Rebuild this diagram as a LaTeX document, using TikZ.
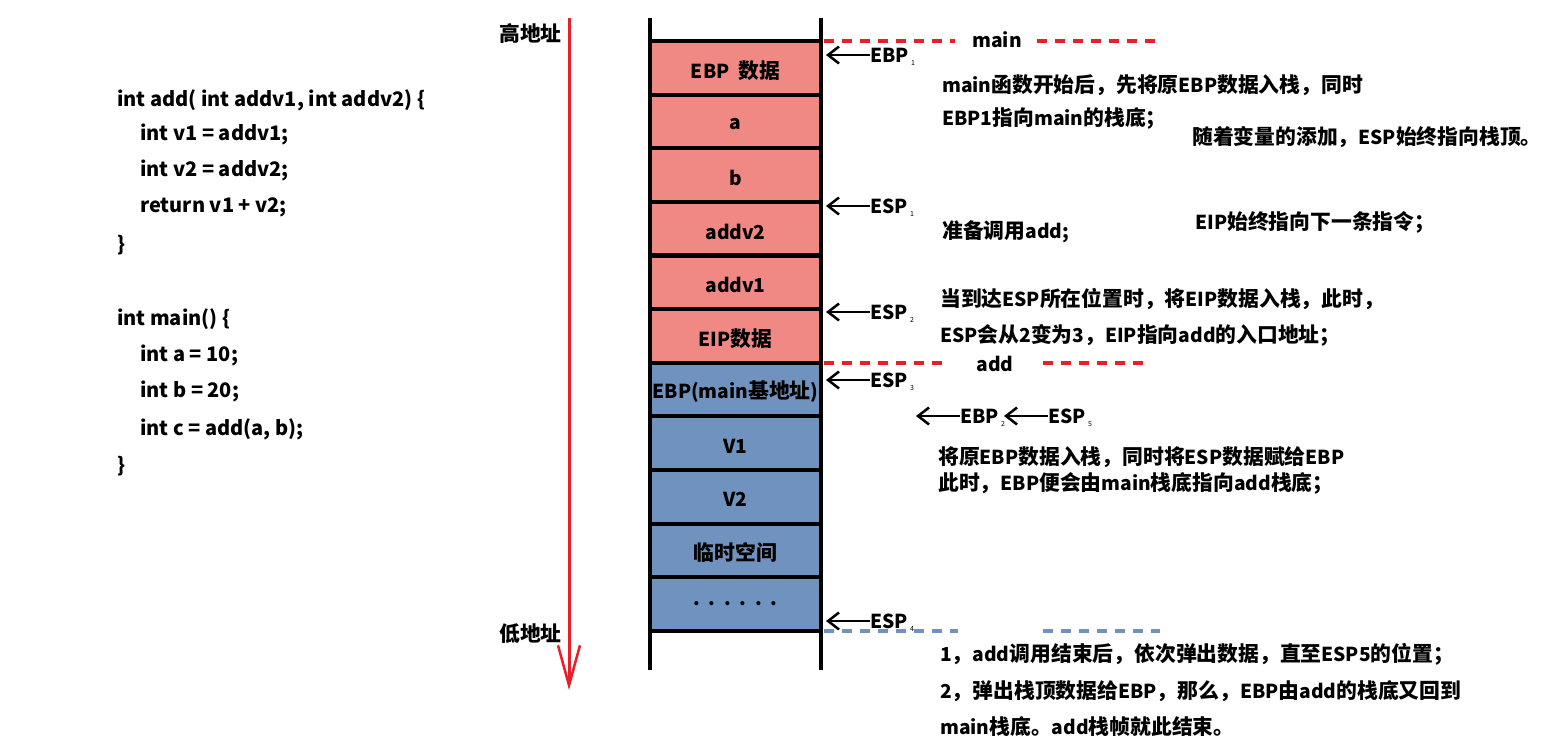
\documentclass[tikz,border=0pt]{standalone}
\usepackage{fontspec}
\setmainfont{Noto Sans CJK SC}
\usetikzlibrary{arrows.meta}
\definecolor{cellred}{RGB}{240,136,132}
\definecolor{cellblue}{RGB}{111,146,191}
\definecolor{dashred}{RGB}{232,30,40}
\definecolor{arrred}{RGB}{232,30,40}
\newcommand\zh[1]{{\fontsize{20.8}{24}\selectfont #1}}
\begin{document}
\begin{tikzpicture}[x=1pt,y=-1pt,
  txt/.style={font=\fontsize{19.2}{22}\selectfont\bfseries, inner sep=0pt, anchor=west},
  codetxt/.style={font=\fontsize{20}{22}\selectfont\bfseries, inner sep=0pt, anchor=west},
  celltxt/.style={font=\fontsize{19.2}{22}\selectfont\bfseries, inner sep=0pt},
  subtxt/.style={font=\fontsize{7}{7}\selectfont, inner sep=0pt, anchor=south west},
  cellr/.style={draw=black, line width=4pt, fill=cellred, minimum width=171pt, minimum height=53.6pt, inner sep=0pt},
  cellb/.style={draw=black, line width=4pt, fill=cellblue, minimum width=171pt, minimum height=53.6pt, inner sep=0pt},
  ptr/.style={line width=2.5pt, -{Straight Barb[length=11pt,width=17pt,line width=2.5pt]}},
  reddash/.style={draw=dashred, line width=4pt, dash pattern=on 10pt off 8pt},
  bluedash/.style={draw=cellblue, line width=4pt, dash pattern=on 10pt off 8pt},
  addrarrow/.style={draw=arrred, line width=3pt, -{Straight Barb[length=40pt,width=22pt,line width=2.5pt]}}
]
\useasboundingbox (0,0) rectangle (1557,747);

% code
\node[codetxt] (c1) at (117,100) {int add( int addv1, int addv2) \{};
\node[codetxt] (c2) at (140,134) {int v1 = addv1;};
\node[codetxt] (c3) at (140,170) {int v2 = addv2;};
\node[codetxt] (c4) at (140,207) {return v1 + v2;};
\node[codetxt] (c5) at (117,245) {\}};
\node[codetxt] (c6) at (117,319) {int main() \{};
\node[codetxt] (c7) at (140,355) {int a = 10;};
\node[codetxt] (c8) at (140,391) {int b = 20;};
\node[codetxt] (c9) at (140,429) {int c = add(a, b);};
\node[codetxt] (c10) at (117,466) {\}};

% address arrow
\node[txt] (hi) at (499,34) {\zh{高地址}};
\node[txt] (lo) at (499,634) {\zh{低地址}};
\coordinate (aTop) at (569,18);
\coordinate (aBot) at (569,690);
\draw[addrarrow] (aTop) -- (aBot);

% stack cells
\node[cellr] (s1) at (735.5,67.8) {};
\node[cellr] (s2) at (735.5,121.4) {};
\node[cellr] (s3) at (735.5,175.0) {};
\node[cellr] (s4) at (735.5,228.6) {};
\node[cellr] (s5) at (735.5,282.3) {};
\node[cellr] (s6) at (735.5,336.0) {};
\node[cellb] (s7) at (735.5,389.6) {};
\node[cellb] (s8) at (735.5,443.2) {};
\node[cellb] (s9) at (735.5,496.8) {};
\node[cellb] (s10) at (735.5,550.4) {};
\node[cellb] (s11) at (735.5,604.1) {};
\node[celltxt] at ([yshift=-3pt]s1) {EBP\ \ \zh{数据}};
\node[celltxt] at ([yshift=-3pt]s2) {a};
\node[celltxt] at ([yshift=-3pt]s3) {b};
\node[celltxt] at ([yshift=-3pt]s4) {addv2};
\node[celltxt] at ([yshift=-3pt]s5) {addv1};
\node[celltxt] at ([yshift=-3pt]s6) {EIP\zh{数据}};
\node[celltxt] at ([yshift=-2pt]s7) {EBP(main\zh{基地址})};
\node[celltxt] at ([yshift=-3pt]s8) {V1};
\node[celltxt] at ([yshift=-3pt]s9) {V2};
\node[celltxt] at ([yshift=-2pt]s10) {\zh{临时空间}};
\node[celltxt] at ([yshift=0pt]s11) {.\ \ .\ \ .\ \ .\ \ .\ \ .};
\coordinate (lt) at (650,18); \coordinate (lb) at (650,670);
\coordinate (rt) at (821,18); \coordinate (rb) at (821,670);
\draw[line width=4pt] (lt) -- (lb);
\draw[line width=4pt] (rt) -- (rb);

% separators
\node[txt, anchor=center] (mainl) at (997,40) {main};
\coordinate (m0) at (824,41); \coordinate (m1) at (955,41);
\coordinate (m2) at (1037,41); \coordinate (m3) at (1160,41);
\draw[reddash] (m0) -- (m1);
\draw[reddash] (m2) -- (m3);
\node[txt, anchor=center] (addl) at (995,364) {add};
\coordinate (d0) at (824,363); \coordinate (d1) at (948,363);
\coordinate (d2) at (1043,363); \coordinate (d3) at (1150,363);
\draw[reddash] (d0) -- (d1);
\draw[reddash] (d2) -- (d3);
\coordinate (b0) at (824,631); \coordinate (b1) at (958,631);
\coordinate (b2) at (1043,631); \coordinate (b3) at (1160,631);
\draw[bluedash] (b0) -- (b1);
\draw[bluedash] (b2) -- (b3);

% pointers
\node[txt] (ebp1) at (870,55) {EBP};
\node[subtxt] at ([xshift=2pt,yshift=-3pt]ebp1.south east) {1};
\coordinate (t1) at (826,55);
\draw[ptr] (ebp1.west) -- (t1);

\node[txt] (esp1) at (870,206) {ESP};
\node[subtxt] at ([xshift=2pt,yshift=-3pt]esp1.south east) {1};
\coordinate (t2) at (826,206);
\draw[ptr] (esp1.west) -- (t2);

\node[txt] (esp2) at (870,312) {ESP};
\node[subtxt] at ([xshift=2pt,yshift=-3pt]esp2.south east) {2};
\coordinate (t3) at (826,312);
\draw[ptr] (esp2.west) -- (t3);

\node[txt] (esp3) at (870,380) {ESP};
\node[subtxt] at ([xshift=2pt,yshift=-3pt]esp3.south east) {3};
\coordinate (t4) at (826,380);
\draw[ptr] (esp3.west) -- (t4);

\node[txt] (ebp2) at (960,416) {EBP};
\node[subtxt] (ebp2s) at ([xshift=2pt,yshift=-3pt]ebp2.south east) {2};
\coordinate (t5) at (916,416);
\draw[ptr] (ebp2.west) -- (t5);

\node[txt] (esp5) at (1048,416) {ESP};
\node[subtxt] at ([xshift=2pt,yshift=-3pt]esp5.south east) {5};
\coordinate (t6) at (1004,416);
\draw[ptr] (esp5.west) -- (t6);

\node[txt] (esp4) at (870,621) {ESP};
\node[subtxt] at ([xshift=2pt,yshift=-3pt]esp4.south east) {4};
\coordinate (t7) at (826,621);
\draw[ptr] (esp4.west) -- (t7);

% notes
\node[txt] (n1) at (942,85) {main\zh{函数开始后，先将原}EBP\zh{数据入栈，同时}};
\node[txt] (n2) at (942,118) {EBP1\zh{指向}main\zh{的栈底；}};
\node[txt] (n3) at (1192,137) {\zh{随着变量的添加，}ESP\zh{始终指向栈顶。}};
\node[txt] (n4) at (942,232) {\zh{准备调用}add;};
\node[txt] (n5) at (1195,222) {EIP\zh{始终指向下一条指令；}};
\node[txt] (n6) at (940,299) {\zh{当到达}ESP\zh{所在位置时，将}EIP\zh{数据入栈，此时，}};
\node[txt] (n7) at (940,335) {ESP\zh{会从}2\zh{变为}3\zh{，}EIP\zh{指向}add\zh{的入口地址；}};
\node[txt] (n8) at (938,457) {\zh{将原}EBP\zh{数据入栈，同时将}ESP\zh{数据赋给}EBP};
\node[txt] (n9) at (938,483) {\zh{此时，}EBP\zh{便会由}main\zh{栈底指向}add\zh{栈底；}};
\node[txt] (n10) at (940,654) {1\zh{，}add\zh{调用结束后，依次弹出数据，直至}ESP5\zh{的位置；}};
\node[txt] (n11) at (940,691) {2\zh{，弹出栈顶数据给}EBP\zh{，那么，}EBP\zh{由}add\zh{的栈底又回到}};
\node[txt] (n12) at (940,727) {main\zh{栈底。}add\zh{栈帧就此结束。}};
\end{tikzpicture}
\end{document}
